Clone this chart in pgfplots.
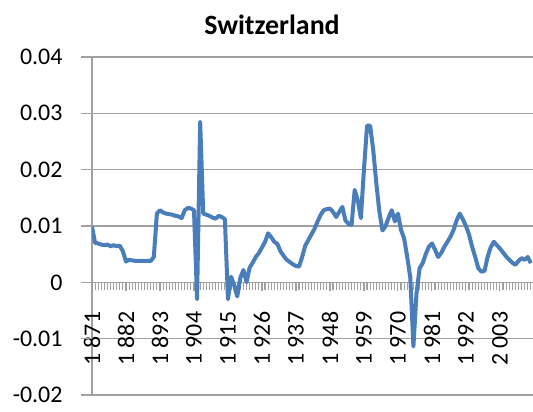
\documentclass[border=0pt]{standalone}
\usepackage{fontspec}
\setmainfont{Carlito}
\usepackage{pgfplots}
\pgfplotsset{compat=1.18}
\definecolor{gridgray}{RGB}{160,160,160}
\definecolor{lineblue}{RGB}{74,126,187}

\pgfplotstableread{
year val
1871 0.0099
1872 0.0070
1873 0.0069
1874 0.0067
1875 0.0066
1876 0.0067
1877 0.0064
1878 0.0066
1879 0.0064
1880 0.0065
1881 0.0055
1882 0.0037
1883 0.0040
1884 0.0039
1885 0.0038
1886 0.0038
1887 0.0038
1888 0.0038
1889 0.0038
1890 0.0038
1891 0.0045
1892 0.0122
1893 0.0128
1894 0.0124
1895 0.0122
1896 0.0121
1897 0.0120
1898 0.0118
1899 0.0117
1900 0.0114
1901 0.0128
1902 0.0132
1903 0.0131
1904 0.0128
1905 -0.0030
1906 0.0285
1907 0.0122
1908 0.0120
1909 0.0118
1910 0.0115
1911 0.0113
1912 0.0118
1913 0.0116
1914 0.0112
1915 -0.0030
1916 0.0010
1917 -0.0005
1918 -0.0025
1919 0.0008
1920 0.0022
1921 0.0000
1922 0.0026
1923 0.0035
1924 0.0045
1925 0.0052
1926 0.0062
1927 0.0072
1928 0.0087
1929 0.0080
1930 0.0072
1931 0.0068
1932 0.0055
1933 0.0047
1934 0.0040
1935 0.0036
1936 0.0032
1937 0.0029
1938 0.0028
1939 0.0045
1940 0.0065
1941 0.0075
1942 0.0085
1943 0.0095
1944 0.0108
1945 0.0120
1946 0.0128
1947 0.0130
1948 0.0131
1949 0.0125
1950 0.0116
1951 0.0125
1952 0.0134
1953 0.0110
1954 0.0104
1955 0.0102
1956 0.0164
1957 0.0146
1958 0.0114
1959 0.0200
1960 0.0278
1961 0.0278
1962 0.0235
1963 0.0176
1964 0.0125
1965 0.0092
1966 0.0100
1967 0.0115
1968 0.0128
1969 0.0108
1970 0.0122
1971 0.0093
1972 0.0078
1973 0.0045
1974 0.0008
1975 -0.0114
1976 -0.0020
1977 0.0025
1978 0.0034
1979 0.0050
1980 0.0063
1981 0.0069
1982 0.0058
1983 0.0045
1984 0.0052
1985 0.0063
1986 0.0072
1987 0.0081
1988 0.0093
1989 0.0110
1990 0.0122
1991 0.0112
1992 0.0100
1993 0.0085
1994 0.0063
1995 0.0045
1996 0.0025
1997 0.0019
1998 0.0020
1999 0.0045
2000 0.0062
2001 0.0072
2002 0.0066
2003 0.0060
2004 0.0053
2005 0.0046
2006 0.0040
2007 0.0035
2008 0.0031
2009 0.0038
2010 0.0043
2011 0.0040
2012 0.0045
2013 0.0034
}\swiss

\begin{document}
\begin{tikzpicture}
\useasboundingbox (0bp,0bp) rectangle (533bp,412bp);
\begin{axis}[
    at={(92bp,17bp)}, anchor=south west,
    width=441bp, height=338bp, scale only axis,
    xmin=1871, xmax=2013.7,
    ymin=-0.02, ymax=0.04,
    axis x line=middle, axis y line=left,
    axis line style={-, draw=gridgray, line width=1.5bp},
    hide obscured x ticks=false, hide obscured y ticks=false,
    ytick={-0.02,-0.01,0,0.01,0.02,0.03,0.04},
    ymajorgrids,
    major grid style={draw=gridgray, line width=1.5bp},
    scaled y ticks=false,
    yticklabel style={/pgf/number format/fixed, /pgf/number format/precision=2, xshift=-26bp},
    xtick align=outside, ytick align=inside,
    major tick length=9bp, minor tick length=8bp,
    ytick style={draw=gridgray, line width=1.5bp},
    xtick={1871,1882,...,2003},
    minor xtick={1871,1872,...,2013},
    xticklabel style={rotate=90, anchor=east, /pgf/number format/1000 sep={\ }},
    xticklabel shift={17bp},
    xtick style={draw=gridgray, line width=1.1bp},
    /pgf/number format/assume math mode=true,
    tick label style={font=\fontsize{24}{28}\selectfont},
]
\addplot[lineblue, line width=4bp, line join=round] table[x=year, y=val] {\swiss};
\end{axis}
% Excel-style gridline stubs left of the value axis
\draw[gridgray, line width=1.5bp] (81bp,17bp) -- (92bp,17bp);
\draw[gridgray, line width=1.5bp] (81bp,73.33bp) -- (92bp,73.33bp);
\draw[gridgray, line width=1.5bp] (81bp,129.67bp) -- (92bp,129.67bp);
\draw[gridgray, line width=1.5bp] (81bp,186bp) -- (92bp,186bp);
\draw[gridgray, line width=1.5bp] (81bp,242.33bp) -- (92bp,242.33bp);
\draw[gridgray, line width=1.5bp] (81bp,298.67bp) -- (92bp,298.67bp);
\draw[gridgray, line width=1.5bp] (81bp,355bp) -- (92bp,355bp);
\node[font=\fontsize{28}{32}\selectfont\bfseries] at (272bp,387bp) {Switzerland};
\end{tikzpicture}
\end{document}
